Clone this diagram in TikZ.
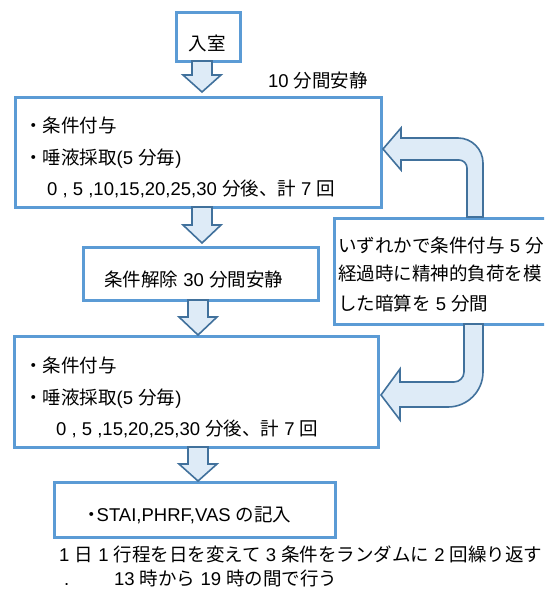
\documentclass[tikz,border=0pt]{standalone}
\usepackage{fontspec}
\setmainfont{Liberation Sans}
\newfontfamily\jp{Noto Sans CJK JP}
\definecolor{boxblue}{RGB}{91,155,213}
\definecolor{arrfill}{RGB}{222,235,247}
\definecolor{arrline}{RGB}{65,113,156}
\tikzset{
  box/.style={draw=boxblue, line width=3pt, fill=white, inner sep=0pt},
  blockarrow/.style={draw=arrline, fill=arrfill, line width=1.6pt, line join=miter},
  txt/.style={anchor=base west, inner sep=0pt, font=\fontsize{18.5}{22}\selectfont},
}
\newcommand\blkdown[4]{\draw[blockarrow] (#1-10,#2) -- (#1+10,#2) -- (#1+10,#3) -- (#1+19,#3) -- (#1,#4) -- (#1-19,#3) -- (#1-10,#3) -- cycle;}
\begin{document}
\begin{tikzpicture}[x=1pt,y=-1pt]
\useasboundingbox (0,0) rectangle (544,589);
\fill[white] (0,0) rectangle (544,589);
\clip (0,0) rectangle (544,589);
% boxes
\node[box, minimum width=64pt, minimum height=49pt] (entry) at (208,36.5) {};
\node[box, minimum width=366pt, minimum height=110pt] (cond1) at (198,152) {};
\node[box, minimum width=235pt, minimum height=53pt] (rest) at (200.5,273.5) {};
\node[box, minimum width=364pt, minimum height=111pt] (cond2) at (196,391.5) {};
\node[box, minimum width=281pt, minimum height=55pt] (fill) at (194.5,509.5) {};
\node[box, minimum width=226pt, minimum height=106pt] (task) at (447,271) {};
% texts
\node[txt, anchor=base] (entrytxt) at (207,50) {\jp 入室};
\node[txt] (t10) at (268,87) {10 {\jp 分間安静}};
\node[txt] (b2a) at (24,132) {\jp ・条件付与};
\node[txt] (b2b) at (24,164) {{\jp ・唾液採取}(5 {\jp 分毎})};
\node[txt] (b2c) at (47,195) {0 , 5 ,10,15,20,25,30 {\jp 分後、計} 7 {\jp 回}};
\node[txt] (b3t) at (104,286) {{\jp 条件解除} 30 {\jp 分間安静}};
\node[txt] (b4a) at (24,372) {\jp ・条件付与};
\node[txt] (b4b) at (24,404) {{\jp ・唾液採取}(5 {\jp 分毎})};
\node[txt] (b4c) at (56,435) {0 , 5 ,15,20,25,30 {\jp 分後、計} 7 {\jp 回}};
\node[txt] (b5t) at (82,521) {{\jp ・}\kern-4pt STAI,PHRF,VAS {\jp の記入}};
\node[txt] (r1) at (338,252) {{\jp いずれかで条件付与} 5 {\jp 分}};
\node[txt] (r2) at (338,280) {\jp 経過時に精神的負荷を模};
\node[txt] (r3) at (338,310) {{\jp した暗算を} 5 {\jp 分間}};
\node[txt] (f1) at (59,561) {1 {\jp 日} 1 {\jp 行程を日を変えて} 3 {\jp 条件をランダムに} 2 {\jp 回繰り返す}};
\node[txt] (f2dot) at (64,585) {.};
\node[txt] (f2) at (114,585) {13 {\jp 時から} 19 {\jp 時の間で行う}};
% block arrows
\blkdown{202}{61}{75}{92}
\blkdown{202}{207}{225}{243}
\blkdown{198}{300}{317}{335}
\blkdown{198}{447}{464}{481}
% U-turn arrows
\draw[blockarrow] (483,217) -- (483,163) .. controls (483,149.2) and (471.8,138) .. (458,138)
  -- (401,138) -- (401,128) -- (383,149) -- (401,170) -- (401,160) -- (459,160)
  .. controls (463.4,160) and (467,163.6) .. (467,168) -- (467,217) -- cycle;
\draw[blockarrow] (483,324) -- (483,372) .. controls (483,391.3) and (467.3,407) .. (448,407)
  -- (400,407) -- (400,420) -- (381,395) -- (400,369) -- (400,382) -- (454,382)
  .. controls (459.5,382) and (464,377.5) .. (464,372) -- (464,324) -- cycle;
\end{tikzpicture}
\end{document}
